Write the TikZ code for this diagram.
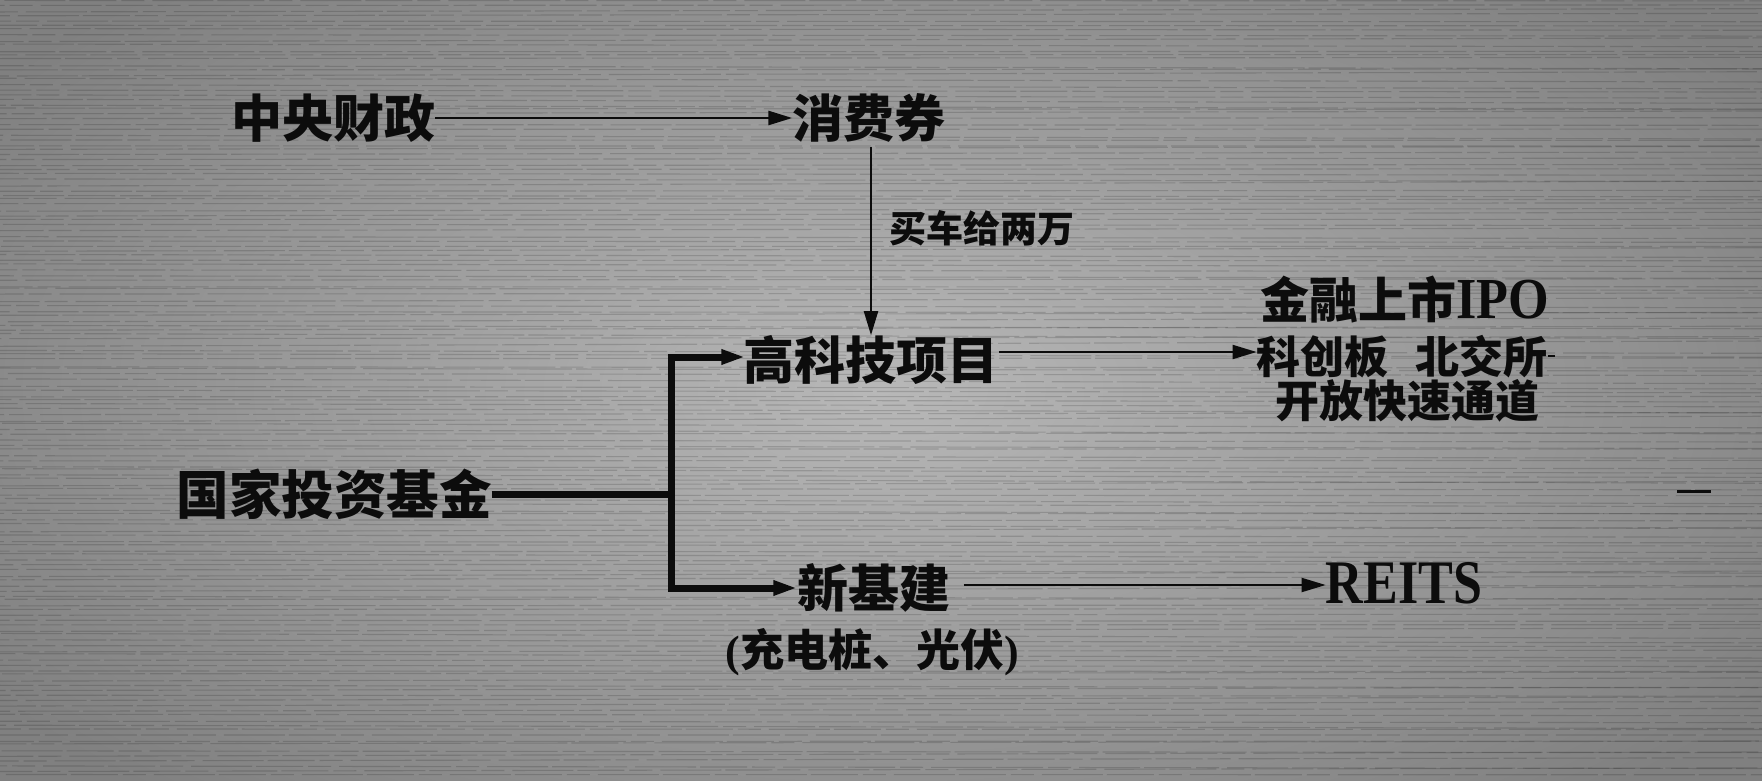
\documentclass[tikz,border=0pt]{standalone}
\usepackage{fontspec}
\usepackage{graphicx}
\newfontfamily\cjk[BoldFont={Noto Sans CJK SC Black}]{Noto Sans CJK SC}
\newfontfamily\lat{Liberation Serif}
\usetikzlibrary{arrows.meta,calc}
\definecolor{ink}{RGB}{12,12,12}
\definecolor{bgmid}{RGB}{184,184,184}
\definecolor{bgedge}{RGB}{128,128,128}
\begin{document}
\begin{tikzpicture}[x=1pt,y=-1pt,
  big/.style={inner sep=0pt, text=ink, font=\cjk\bfseries\fontsize{51}{51}\selectfont},
  mid/.style={inner sep=0pt, text=ink, font=\cjk\bfseries\fontsize{44}{44}\selectfont},
  small/.style={inner sep=0pt, text=ink, font=\cjk\bfseries\fontsize{37}{37}\selectfont},
  head/.style={-{Triangle[length=24pt,width=14pt]}},
  thinline/.style={draw=ink, line width=2.6pt},
  hairline/.style={draw=ink, line width=2pt},
  thickline/.style={draw=ink, line width=7pt},
  tex/.style={line width=1.1pt, black, opacity=0.15}]
\useasboundingbox (0,0) rectangle (1762,781);
\shade[inner color=bgmid, outer color=bgedge] (-200,-150) rectangle (1962,931);
\pgfmathsetseed{7}
\foreach \i in {0,...,155}{
  \pgfmathsetmacro\ph{rnd*90}
  \pgfmathsetmacro\ya{\i*5+2*rand}
  \pgfmathsetmacro\yb{\i*5+4*rand}
  \draw[tex, dash pattern=on 47pt off 5pt on 23pt off 8pt on 61pt off 4pt, dash phase=\ph pt] (0,\ya) -- (1762,\yb);
}
% nodes
\node[big] (czz) at (333,118) {中央财政};
\node[big] (xfq) at (869,118) {消费券};
\node[small] (mc) at (982,228) {买车给两万};
\node[big] (gkj) at (871,360) {高科技项目};
\node[mid] (ipo1) at (1405,300) {\fontsize{49}{49}\selectfont 金融上市{\lat\bfseries\fontsize{58}{58}\selectfont\scalebox{0.9}[1]{IPO}}};
\node[mid] (ipo2) at (1402,357) {科创板\hspace{0.6em}北交所};
\node[mid] (ipo3) at (1407,401) {开放快速通道};
\node[big] (gj) at (334,494) {\fontsize{52.5}{52.5}\selectfont 国家投资基金};
\node[big] (xjj) at (874,588) {新基建};
\node[mid] (cd) at (872,652) {{\lat\bfseries(}充电桩、光伏{\lat\bfseries)}};
\node[inner sep=0pt, text=ink, font=\lat\bfseries\fontsize{62}{62}\selectfont] (reits) at (1404,583) {\scalebox{0.84}[1]{REITS}};
\coordinate (split) at (671,494);
\coordinate (d1) at (1677,491);
\coordinate (d2) at (1711,491);
\coordinate (e1) at (1548,356);
\coordinate (e2) at (1555,356);
% connectors
\draw[thinline, head] (czz.east) -- (xfq.west);
\draw[hairline, head] (xfq.south -| gkj.north) ++(0,4) -- (gkj.north);
\draw[hairline, head] (gkj.east |- 0,352) -- (ipo2.west |- 0,352);
\draw[hairline, head, shorten <=13pt] (xjj.east |- 0,585) -- (reits.west |- 0,585);
\draw[thickline] (gj.east) -- (split);
\draw[thickline, head, shorten >=-2pt] (split) |- ($(gkj.west)+(0,-3)$);
\draw[thickline, head] (split) |- (xjj.west);
\draw[draw=ink, line width=3pt] (d1) -- (d2);
\draw[draw=ink, line width=2pt] (e1) -- (e2);
\end{tikzpicture}
\end{document}
